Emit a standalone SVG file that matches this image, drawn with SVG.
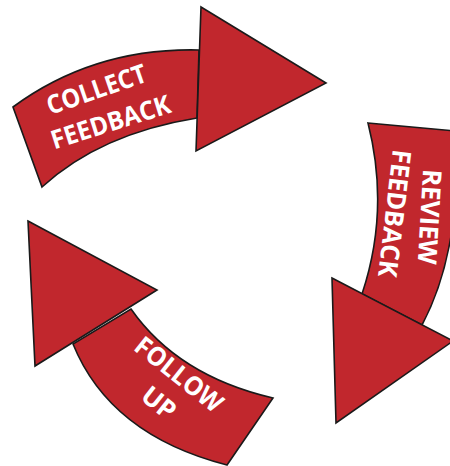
<svg xmlns="http://www.w3.org/2000/svg" width="450" height="466" viewBox="0 0 450 466">
<style>
.shape{fill:#c1272d;stroke:#1a1a1a;stroke-width:1.6;stroke-linejoin:miter}
.lbl{fill:#ffffff;font-family:"Open Sans","Liberation Sans",sans-serif;font-weight:700;font-size:26px;text-anchor:middle}
</style>
<rect width="450" height="466" fill="#ffffff"/>
<g id="connectors">
<g id="arrow-collect">
<path class="shape" d="M13,107 Q94,47.5 199,50 L197,118 Q100.5,133.5 42,187 Z"/>
<path class="shape" d="M201,7 L326,83 L196,151 Z"/>
</g>
<g id="arrow-review">
<path class="shape" d="M368,123 L456,131 Q462,250 422,325 L362,294 Q390,210 368,123 Z"/>
<path class="shape" d="M332,278 L453,341 L336,423 Z"/>
</g>
<g id="arrow-follow">
<path class="shape" d="M131,309 Q178,376 273,398 L227,465 Q110,435 73,344 Z"/>
<path class="shape" d="M28,221 L157,290 L35,366 Z"/>
</g>
</g>
<g id="node-collect">
<text class="lbl" transform="translate(99.5,98) rotate(-19)" textLength="104" lengthAdjust="spacingAndGlyphs">COLLECT</text>
<text class="lbl" transform="translate(113.4,130.8) rotate(-17.5)" textLength="124" lengthAdjust="spacingAndGlyphs">FEEDBACK</text>
</g>
<g id="node-review">
<text class="lbl" transform="translate(420.5,216.2) rotate(93.4)" textLength="95" lengthAdjust="spacingAndGlyphs">REVIEW</text>
<text class="lbl" transform="translate(385.6,212.3) rotate(96.7)" textLength="128" lengthAdjust="spacingAndGlyphs">FEEDBACK</text>
</g>
<g id="node-follow">
<text class="lbl" transform="translate(173.3,381.5) rotate(38.5)" textLength="104" lengthAdjust="spacingAndGlyphs">FOLLOW</text>
<text class="lbl" transform="translate(153.3,410) rotate(38.5)" textLength="36" lengthAdjust="spacingAndGlyphs">UP</text>
</g>
</svg>
